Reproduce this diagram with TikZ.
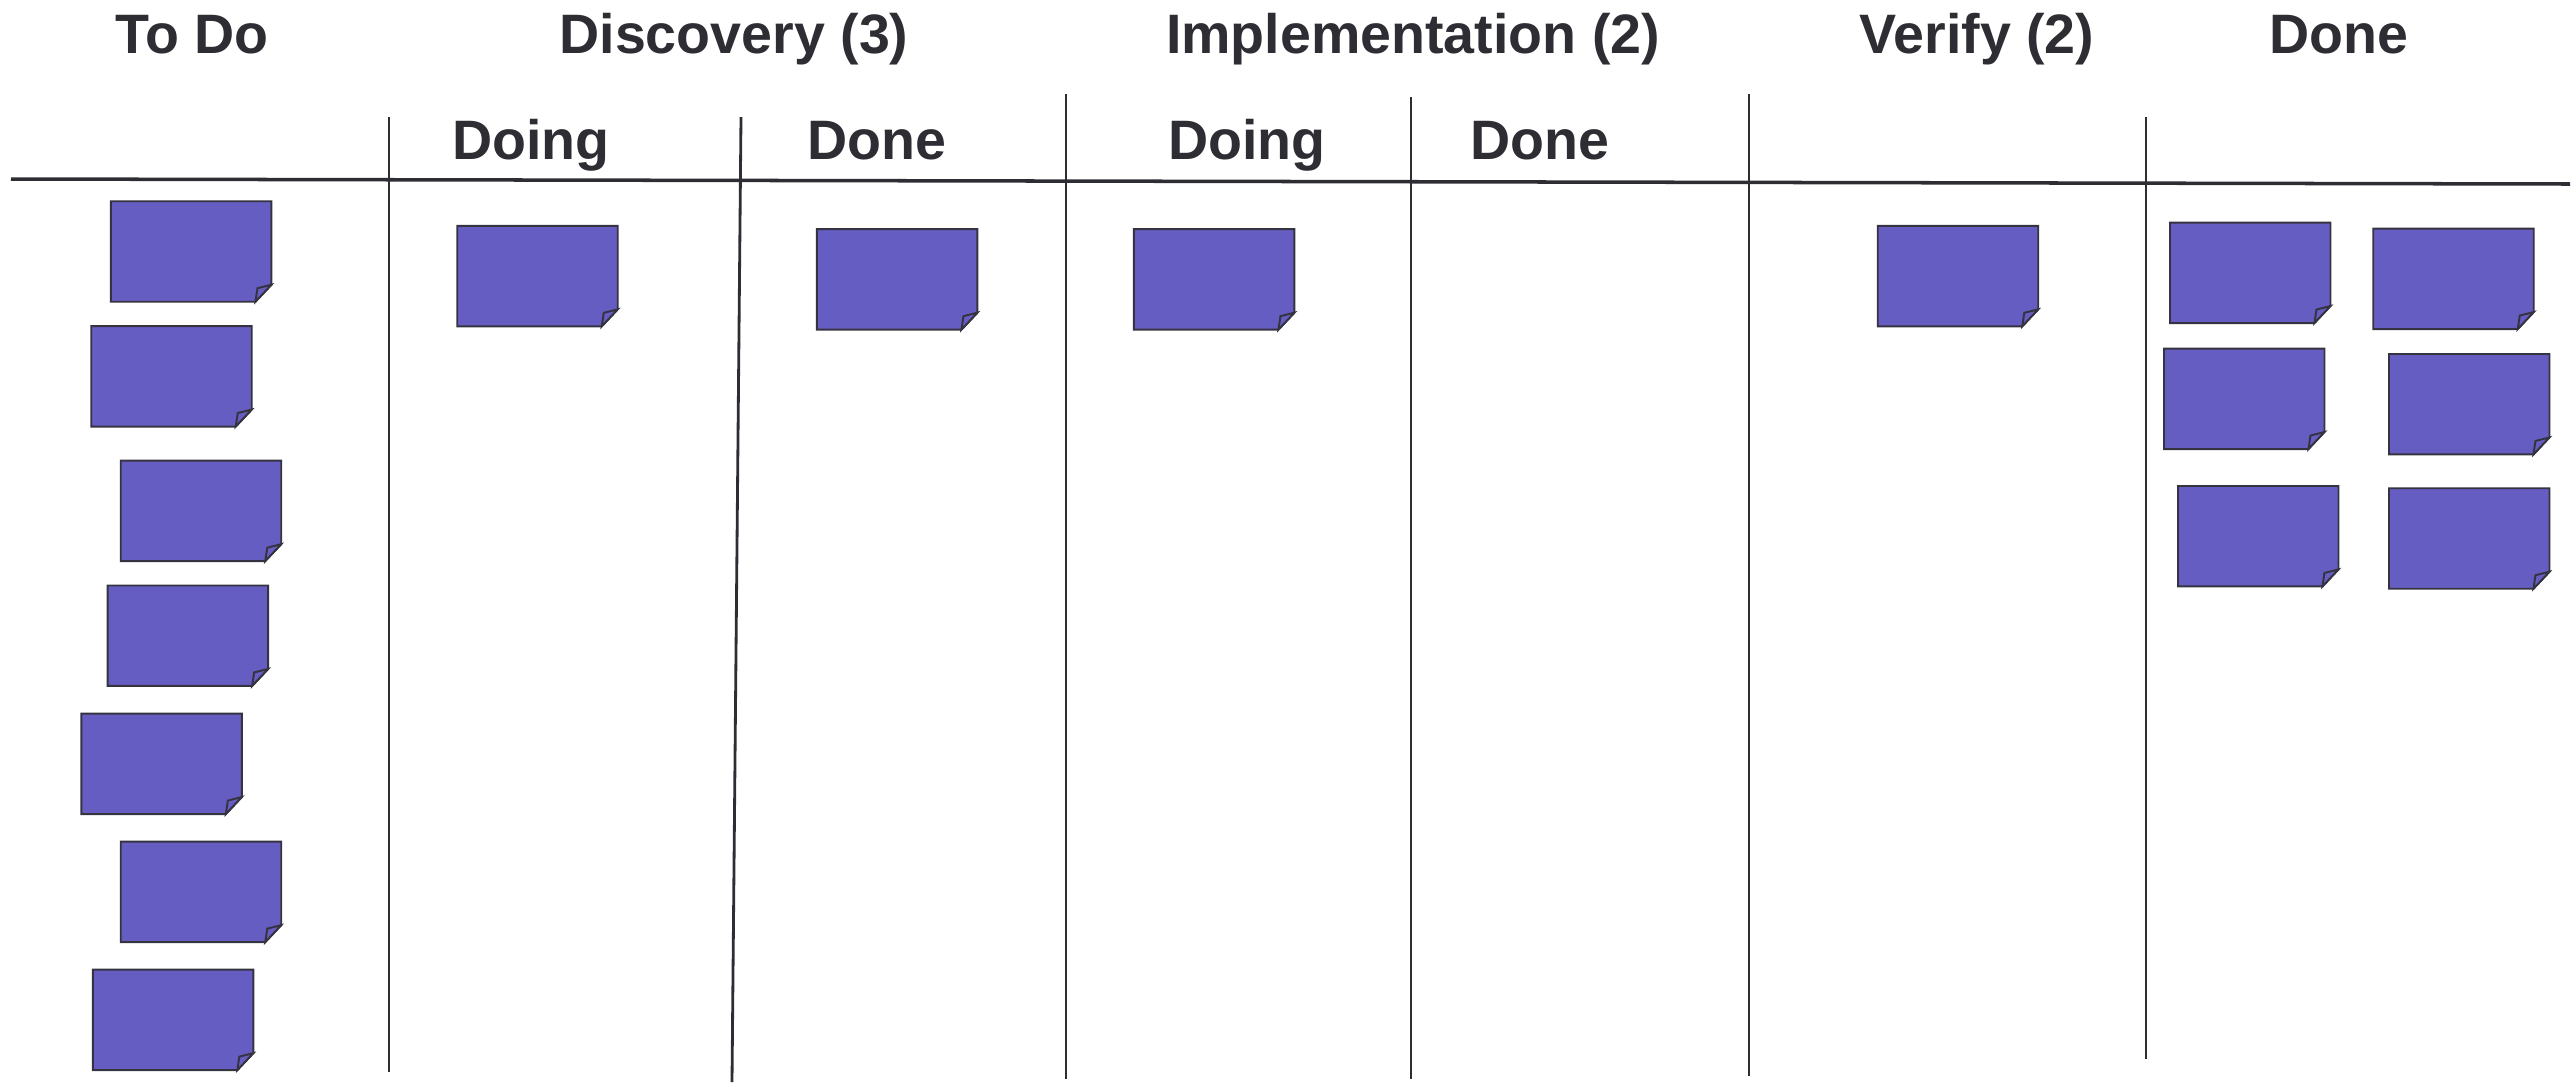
\documentclass[tikz,border=0pt]{standalone}
\usepackage{fontspec}
\setmainfont{Liberation Sans}
\usetikzlibrary{calc}
\definecolor{notefill}{HTML}{665DC2}
\definecolor{noteline}{HTML}{35333F}
\definecolor{txt}{HTML}{2E2D33}
\definecolor{rule}{HTML}{2E2D33}
\tikzset{
  head/.style={anchor=base, inner sep=0pt, text=txt, font=\fontsize{15.8pt}{18pt}\selectfont\bfseries},
  notebox/.style={minimum width=1.59cm, minimum height=0.99cm, inner sep=0pt, draw=none},
  notepath/.style={fill=notefill, draw=noteline, line width=0.55pt, line join=miter},
  hrule/.style={draw=rule, line width=1pt},
  vrule/.style={draw=rule, line width=0.8pt}
}
\newcommand\sticky[3]{%
  \node[notebox] (#1) at (#2+79.5, #3+49.5) {};
  \path[notepath] (#1.north west) -- (#1.north east) -- ($(#1.south east)+(0,-17)$)
     -- ($(#1.south east)+(-16,0)$) -- (#1.south west) -- cycle;
  \path[notepath] ($(#1.south east)+(-16,0)$) -- ($(#1.south east)+(-14,-13.5)$)
     -- ($(#1.south east)+(0,-17)$) -- cycle;
}
\begin{document}
\begin{tikzpicture}[x=0.01cm, y=-0.01cm]
\useasboundingbox (0,0) rectangle (2575,1084);
% headers
\node[head] (hTodo) at (192,53) {To Do};
\node[head] (hDisc) at (734,53) {Discovery (3)};
\node[head] (hImpl) at (1413,53) {Implementation (2)};
\node[head] (hVer) at (1977,53) {Verify (2)};
\node[head] (hDone) at (2339,53) {Done};
\node[head] (sDoing1) at (531,159) {Doing};
\node[head] (sDone1) at (877,159) {Done};
\node[head] (sDoing2) at (1247,159) {Doing};
\node[head] (sDone2) at (1540,159) {Done};
% rules
\coordinate (hl) at (11,179);
\coordinate (hr) at (2570,184);
\draw[hrule] (hl) -- (hr);
\coordinate (v1t) at (389,117);  \coordinate (v1b) at (389,1072);
\coordinate (v2t) at (741,117);  \coordinate (v2b) at (732,1082);
\coordinate (v3t) at (1066,94);  \coordinate (v3b) at (1066,1079);
\coordinate (v4t) at (1411,97);  \coordinate (v4b) at (1411,1079);
\coordinate (v5t) at (1749,94);  \coordinate (v5b) at (1749,1076);
\coordinate (v6t) at (2146,117); \coordinate (v6b) at (2146,1059);
\foreach \i in {1,...,6} {\draw[vrule] (v\i t) -- (v\i b);}
% To Do notes
\sticky{t1}{111.7}{202}
\sticky{t2}{92}{326.8}
\sticky{t3}{121.5}{461.4}
\sticky{t4}{108.4}{586.2}
\sticky{t5}{82.1}{714.3}
\sticky{t6}{121.5}{842.4}
\sticky{t7}{93.6}{970.4}
% Discovery
\sticky{d1}{458}{226.6}
\sticky{d2}{817.7}{229.9}
% Implementation
\sticky{i1}{1134.7}{229.9}
% Verify
\sticky{v1}{1878.5}{226.6}
% Done
\sticky{n1}{2170.7}{223.3}
\sticky{n2}{2374}{229.3}
\sticky{n3}{2164.7}{349.3}
\sticky{n4}{2389.7}{354.7}
\sticky{n5}{2178.7}{486.7}
\sticky{n6}{2389.7}{489}
\end{tikzpicture}
\end{document}
